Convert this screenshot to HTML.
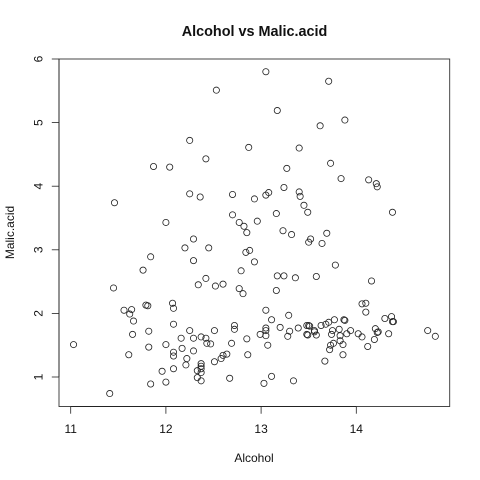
<!DOCTYPE html>
<html lang="en">
<head>
<meta charset="utf-8">
<title>Alcohol vs Malic.acid</title>
<style>
html,body{margin:0;padding:0;background:#fff;width:480px;height:480px;overflow:hidden}
svg{display:block}
text{font-family:"Liberation Sans",Arial,sans-serif;fill:#111}
</style>
</head>
<body>
<svg id="chart" width="480" height="480" viewBox="0 0 480 480" xmlns="http://www.w3.org/2000/svg">
  <rect x="0" y="0" width="480" height="480" fill="#fff"/>
  <text x="254.5" y="36" text-anchor="middle" font-size="14.4" font-weight="bold">Alcohol vs Malic.acid</text>
  <text x="254" y="462" text-anchor="middle" font-size="12">Alcohol</text>
  <text transform="translate(14 232.5) rotate(-90)" text-anchor="middle" font-size="12">Malic.acid</text>
  <rect x="59" y="59" width="390.7" height="347.5" fill="none" stroke="#333" stroke-width="0.9"/>
  <g id="axes"></g>
  <g id="points"></g>
</svg>
<script>
const alcohol = [
14.23,13.2,13.16,14.37,13.24,14.2,14.39,14.06,14.83,13.86,14.1,14.12,13.75,14.75,14.38,13.63,14.3,13.83,14.19,13.64,14.06,12.93,13.71,12.85,13.5,13.05,13.39,13.3,13.87,14.02,13.73,13.58,13.68,13.76,13.51,13.48,13.28,13.05,13.07,14.22,13.56,13.41,13.88,13.24,13.05,14.21,14.38,13.9,14.1,13.94,13.05,13.83,13.82,13.77,13.74,13.56,14.22,13.29,13.72,
12.37,12.33,12.64,13.67,12.37,12.17,12.37,13.11,12.37,13.34,12.21,12.29,13.86,13.49,12.99,11.96,11.66,13.03,11.84,12.33,12.7,12,12.72,12.08,13.05,11.84,12.67,12.16,11.65,11.64,12.08,12.08,12,12.69,12.29,11.62,12.47,11.81,12.29,12.37,12.29,12.08,12.6,12.34,11.82,12.51,12.42,12.25,12.72,12.22,11.61,11.46,12.52,11.76,11.41,12.08,11.03,11.82,12.42,12.77,12,11.45,11.56,12.42,13.05,11.87,12.07,12.43,11.79,12.37,12.04,
12.86,12.88,12.81,12.7,12.51,12.6,12.25,12.53,13.49,12.84,12.93,13.36,13.52,13.62,12.25,13.16,13.88,12.87,13.32,13.08,13.5,12.79,13.11,13.23,12.58,13.17,13.84,12.45,14.34,13.48,12.36,13.69,12.85,12.96,13.78,13.73,13.45,12.82,13.58,13.4,12.2,12.77,14.16,13.71,13.4,13.27,13.17,14.13
];
const malicAcid = [
1.71,1.78,2.36,1.95,2.59,1.76,1.87,2.15,1.64,1.35,2.16,1.48,1.73,1.73,1.87,1.81,1.92,1.57,1.59,3.1,1.63,3.8,1.86,1.6,1.81,2.05,1.77,1.72,1.9,1.68,1.5,1.66,1.83,1.53,1.8,1.81,1.64,1.65,1.5,3.99,1.71,3.84,1.89,3.98,1.77,4.04,3.59,1.68,2.02,1.73,1.73,1.65,1.75,1.9,1.67,1.73,1.7,1.97,1.43,
0.94,1.1,1.36,1.25,1.13,1.45,1.21,1.01,1.17,0.94,1.19,1.61,1.51,1.66,1.67,1.09,1.88,0.9,2.89,0.99,3.87,0.92,1.81,1.13,3.86,0.89,0.98,1.61,1.67,2.06,1.33,1.83,1.51,1.53,2.83,1.99,1.52,2.12,1.41,1.07,3.17,2.08,1.34,2.45,1.72,1.73,2.55,1.73,1.75,1.29,1.35,3.74,2.43,2.68,0.74,1.39,1.51,1.47,1.61,3.43,3.43,2.4,2.05,4.43,5.8,4.31,2.16,1.53,2.13,1.63,4.3,
1.35,2.99,2.31,3.55,1.24,2.46,4.72,5.51,3.59,2.96,2.81,2.56,3.17,4.95,3.88,3.57,5.04,4.61,3.24,3.9,3.12,2.67,1.9,3.3,1.29,5.19,4.12,3.03,1.68,1.67,3.83,3.26,3.27,3.45,2.76,4.36,3.7,3.37,2.58,4.6,3.03,2.39,2.51,5.65,3.91,4.28,2.59,4.1
];
const xTicks = [11, 12, 13, 14];
const yTicks = [1, 2, 3, 4, 5, 6];

const NS = 'http://www.w3.org/2000/svg';
const plotBottom = 406.5;
const plotLeft = 59;
const tickLength = 7.2;
const axisColor = '#222';

function xScale(v) { return 70.7 + (v - 11) * 95.2; }
function yScale(v) { return 377 - (v - 1) * 63.6; }

function make(tag, attrs, parent) {
  const el = document.createElementNS(NS, tag);
  for (const k in attrs) el.setAttribute(k, attrs[k]);
  parent.appendChild(el);
  return el;
}

const axes = document.getElementById('axes');
const points = document.getElementById('points');

const xAxisLine = make('line', {x1: xScale(xTicks[0]), x2: xScale(xTicks[xTicks.length - 1]), y1: plotBottom, y2: plotBottom, stroke: axisColor, 'stroke-width': 0.9}, axes);



const yAxisLine = make('line', {x1: plotLeft, x2: plotLeft, y1: yScale(yTicks[0]), y2: yScale(yTicks[yTicks.length - 1]), stroke: axisColor, 'stroke-width': 0.9}, axes);



xTicks.forEach(function (t) {
  const x = xScale(t);
  const mark = make('line', {x1: x, x2: x, y1: plotBottom, y2: plotBottom + tickLength, stroke: axisColor, 'stroke-width': 0.8}, axes);
  
  
  const label = make('text', {x: x, y: 433, 'text-anchor': 'middle', 'font-size': 12}, axes);
  
  
  label.textContent = String(t);
});

yTicks.forEach(function (t) {
  const y = yScale(t);
  const mark = make('line', {x1: plotLeft - tickLength, x2: plotLeft, y1: y, y2: y, stroke: axisColor, 'stroke-width': 0.8}, axes);
  
  
  const label = make('text', {transform: 'translate(42.5 ' + y + ') rotate(-90)', 'text-anchor': 'middle', 'font-size': 12}, axes);
  
  
  label.textContent = String(t);
});

alcohol.forEach(function (a, i) {
  const c = make('circle', {cx: xScale(a), cy: yScale(malicAcid[i]), r: 3.1, fill: 'none', stroke: '#222', 'stroke-width': 0.8}, points);
  
  
});
</script>
</body>
</html>
